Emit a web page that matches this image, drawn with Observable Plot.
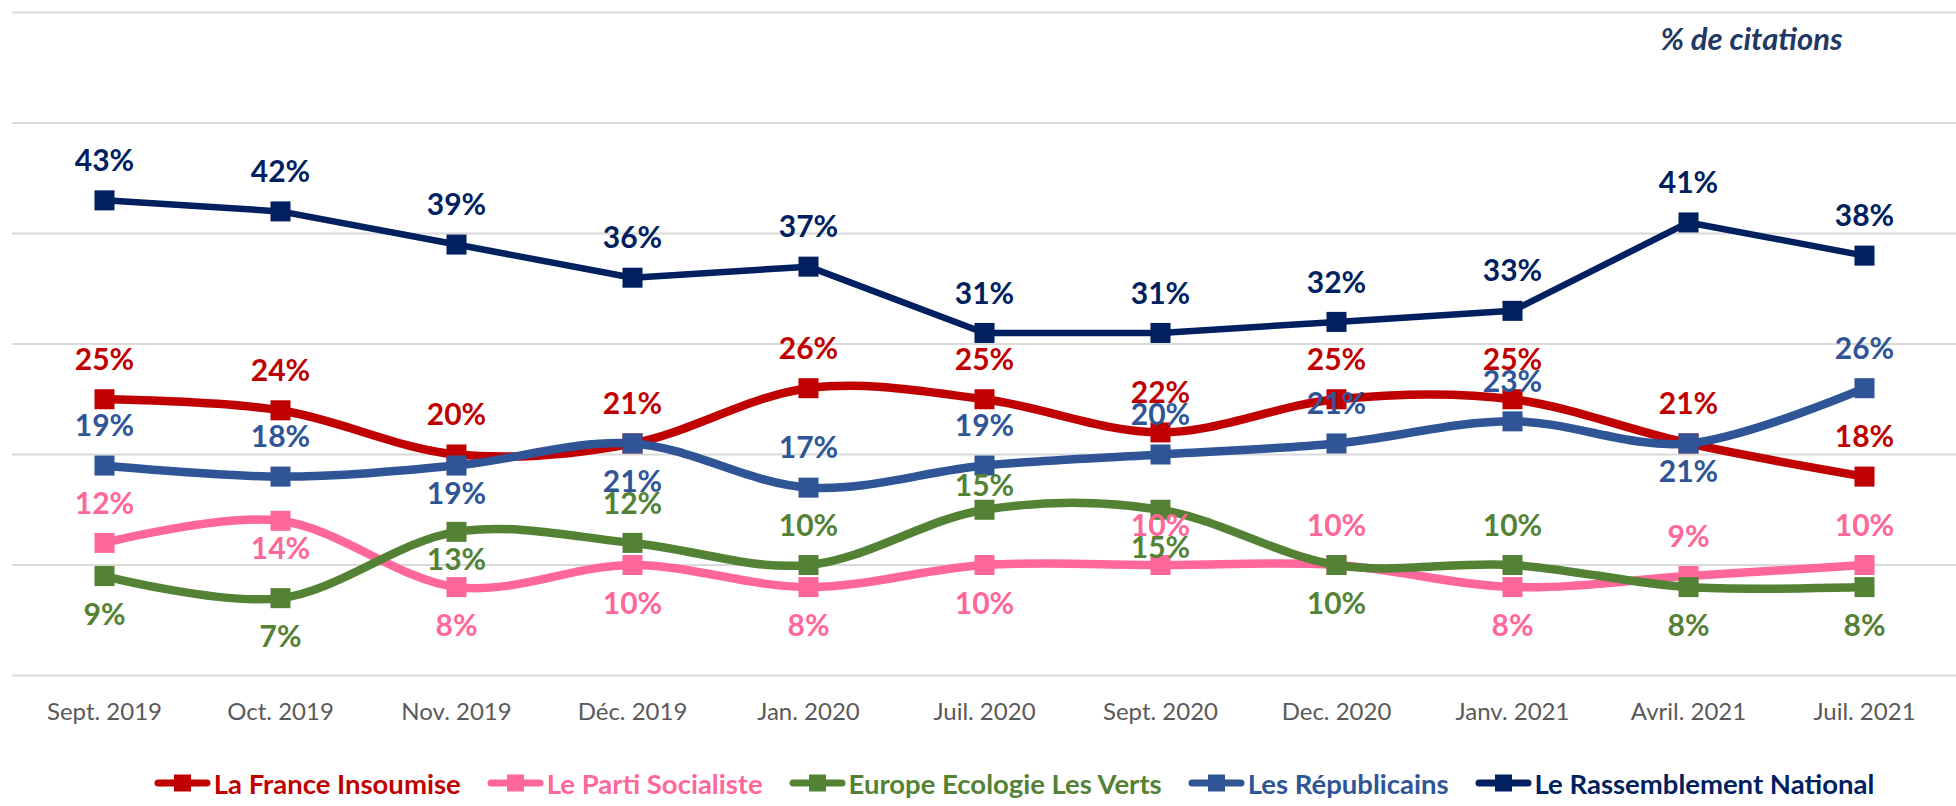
<!DOCTYPE html>
<html>
<head>
<meta charset="utf-8">
<script src="https://cdn.jsdelivr.net/npm/d3@7"></script>
<script src="https://cdn.jsdelivr.net/npm/@observablehq/plot@0.6"></script>
<style>
  html, body { margin: 0; padding: 0; background: #ffffff; }
  body { width: 1956px; height: 806px; overflow: hidden; font-family: Lato, "Open Sans", sans-serif; }
  #legend { display: flex; justify-content: center; align-items: center; height: 46px; padding-left: 72px; gap: 26px; }
  .item { display: flex; align-items: center; font-weight: 700; font-size: 27.5px; }
  .item svg { margin-right: 3px; }
</style>
</head>
<body>
<div id="chart"></div>
<div id="legend"></div>
<script>
// ---- data ----
const months = ["Sept. 2019", "Oct. 2019", "Nov. 2019", "Déc. 2019", "Jan. 2020", "Juil. 2020", "Sept. 2020", "Dec. 2020", "Janv. 2021", "Avril. 2021", "Juil. 2021"];
const seriesNames = ["La France Insoumise", "Le Parti Socialiste", "Europe Ecologie Les Verts", "Les Républicains", "Le Rassemblement National"];
const lfi  = [25, 24, 20, 21, 26, 25, 22, 25, 25, 21, 18];
const ps   = [12, 14, 8, 10, 8, 10, 10, 10, 8, 9, 10];
const eelv = [9, 7, 13, 12, 10, 15, 15, 10, 10, 8, 8];
const lr   = [19, 18, 19, 21, 17, 19, 20, 21, 23, 21, 26];
const rn   = [43, 42, 39, 36, 37, 31, 31, 32, 33, 41, 38];
// label placement relative to the marker
const lfiLab  = ["above","above","above","above","above","above","above","above","above","above","above"];
const psLab   = ["above","below-close","below","below","below","below","above","above","below","above","above"];
const eelvLab = ["below","below","below-close","above","above","above-close","below","below","above","below","below"];
const lrLab   = ["above","above","below-close","below","above","above","above","above","above","below-close","above"];
const rnLab   = ["above","above","above","above","above","above","above","above","above","above","above"];
const yTicks = [0, 10, 20, 30, 40, 50, 60];
const unitNote = "% de citations";

// ---- styles ----
const colors = ["#C00000", "#FF6699", "#548235", "#2F5597", "#002060"];
const widths = [8.5, 8.5, 8.5, 8.5, 6.5];
const curves = ["cardinal", "cardinal", "cardinal", "cardinal", "linear"];

const allValues = [lfi, ps, eelv, lr, rn];
const allLabs = [lfiLab, psLab, eelvLab, lrLab, rnLab];
const rows = [];
seriesNames.forEach((s, i) => {
  months.forEach((m, j) => rows.push({series: s, month: m, value: allValues[i][j], pos: allLabs[i][j]}));
});

const offsets = {"above": -39, "below": 39, "above-close": -23, "below-close": 29};

const marks = [
  Plot.ruleY(yTicks, {stroke: "#D9D9D9", strokeWidth: 2}),
  Plot.axisX({tickSize: 0, tickPadding: 27, fontSize: 24, label: null})
];
seriesNames.forEach((s, i) => {
  const d = rows.filter(r => r.series === s);
  marks.push(Plot.line(d, {x: "month", y: "value", stroke: "series", strokeWidth: widths[i], curve: curves[i], strokeLinejoin: "round", strokeLinecap: "round"}));
  marks.push(Plot.dot(d, {x: "month", y: "value", fill: "series", symbol: "square", r: 11.3}));
});
Object.entries(offsets).forEach(([k, dy]) => {
  marks.push(Plot.text(rows.filter(r => r.pos === k), {
    x: "month", y: "value", text: d => d.value + "%", fill: "series",
    dy, fontSize: 30, fontWeight: 700, lineAnchor: "middle"
  }));
});
marks.push(Plot.text([unitNote], {frameAnchor: "top-right", dx: -114, dy: 28, textAnchor: "end", lineAnchor: "middle", fontSize: 31, fontWeight: 700, fontStyle: "italic", fill: "#1F3864"}));

const chart = Plot.plot({
  width: 1956,
  height: 760,
  marginTop: 12,
  marginBottom: 85,
  marginLeft: 12,
  marginRight: 0,
  style: {color: "#595959", fontFamily: "Lato, 'Open Sans', sans-serif", background: "#ffffff"},
  x: {type: "point", domain: months, padding: 0.5, axis: null},
  y: {domain: [0, 60], axis: null},
  color: {domain: seriesNames, range: colors},
  marks
});
document.getElementById("chart").appendChild(chart);

// ---- legend ----
const legend = document.getElementById("legend");
seriesNames.forEach((s, i) => {
  const item = document.createElement("div");
  item.className = "item";
  item.style.color = colors[i];
  item.innerHTML = `<svg width="57" height="20" viewBox="0 0 57 20"><line x1="4" y1="10" x2="53" y2="10" stroke="${colors[i]}" stroke-width="7" stroke-linecap="round"/><rect x="20" y="1.5" width="17" height="17" fill="${colors[i]}"/></svg><span>${s}</span>`;
  legend.appendChild(item);
});
</script>
</body>
</html>
